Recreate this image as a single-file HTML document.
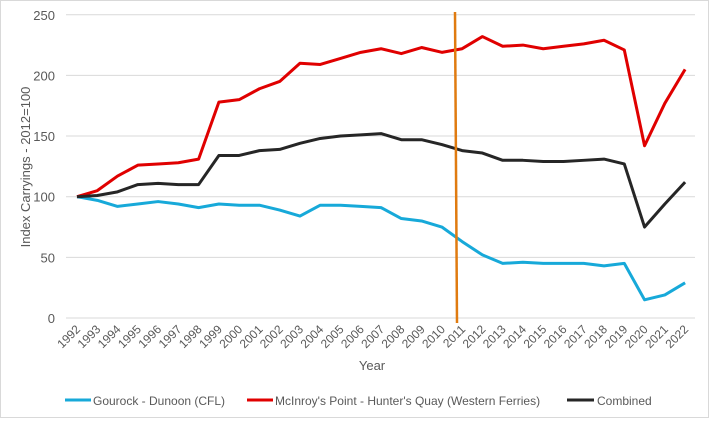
<!DOCTYPE html><html><head><style>body{margin:0;background:#fff}svg{font-family:"Liberation Sans",sans-serif}</style></head><body>
<svg width="709" height="418" viewBox="0 0 709 418" xmlns="http://www.w3.org/2000/svg">
<rect x="0.5" y="0.5" width="708" height="417" fill="#fff" stroke="#d9d9d9"/>
<g id="g"></g>
<script>
const ns="http://www.w3.org/2000/svg",g=document.getElementById('g');
function el(t,a,txt){const e=document.createElementNS(ns,t);for(const k in a)e.setAttribute(k,a[k]);if(txt!==undefined)e.textContent=txt;g.appendChild(e);return e;}
const Y=v=>318-v*1.213,X=i=>77+i*20.27;
for(let v=0;v<=250;v+=50){el('line',{x1:66,x2:695,y1:Y(v),y2:Y(v),stroke:'#d9d9d9','stroke-width':1});el('text',{x:55,y:Y(v)+5,'text-anchor':'end','font-size':13,fill:'#595959'},v);}
for(let i=0;i<31;i++){const x=X(i)+4,y=330;el('text',{x:x,y:y,'text-anchor':'end','font-size':12,fill:'#595959',transform:`rotate(-45 ${x} ${y})`},1992+i);}
el('text',{x:372,y:370,'text-anchor':'middle','font-size':13,fill:'#595959'},'Year');
el('text',{x:30,y:167,'text-anchor':'middle','font-size':13,fill:'#595959',transform:'rotate(-90 30 167)'},'Index Carryings - 2012=100');
const red=[100,105,117,126,127,128,131,178,180,189,195,210,209,214,219,222,218,223,219,222,232,224,225,222,224,226,229,221,142,177,205];
const blk=[100,101,104,110,111,110,110,134,134,138,139,144,148,150,151,152,147,147,143,138,136,130,130,129,129,130,131,127,75,94,112];
const blu=[100,97,92,94,96,94,91,94,93,93,89,84,93,93,92,91,82,80,75,63,52,45,46,45,45,45,43,45,15,19,29];
[[blu,'#17a9d9'],[red,'#e00000'],[blk,'#262626']].forEach(([d,c])=>el('polyline',{points:d.map((v,i)=>X(i)+','+Y(v)).join(' '),fill:'none',stroke:c,'stroke-width':3,'stroke-linejoin':'round'}));
el('line',{x1:455,y1:12,x2:457,y2:323,stroke:'#e07b10','stroke-width':2.5});
el('line',{x1:65,x2:91,y1:400,y2:400,stroke:'#17a9d9','stroke-width':3});
el('text',{x:93,y:405,'font-size':12,fill:'#595959'},'Gourock - Dunoon (CFL)');
el('line',{x1:247,x2:273,y1:400,y2:400,stroke:'#e00000','stroke-width':3});
el('text',{x:275,y:405,'font-size':12,fill:'#595959'},"McInroy's Point - Hunter's Quay (Western Ferries)");
el('line',{x1:567,x2:594,y1:400,y2:400,stroke:'#262626','stroke-width':3});
el('text',{x:597,y:405,'font-size':12,fill:'#595959'},'Combined');
</script>
</svg></body></html>
